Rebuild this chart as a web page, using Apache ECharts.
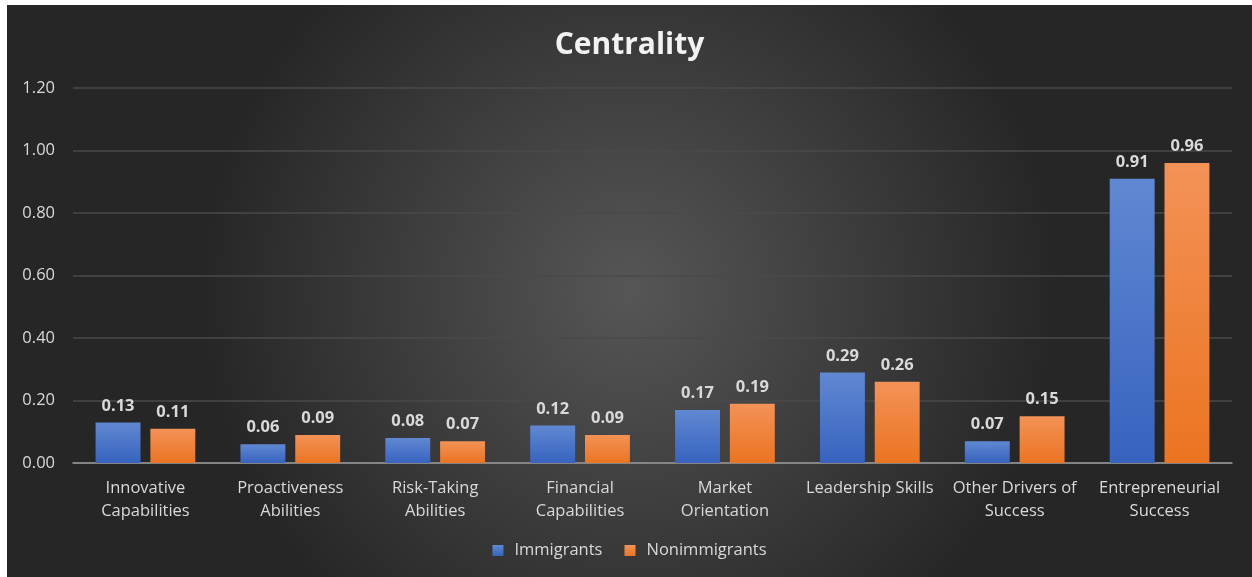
<!DOCTYPE html>
<html>
<head>
<meta charset="utf-8">
<script src="https://cdn.jsdelivr.net/npm/echarts@6/dist/echarts.min.js"></script>
<style>
  html, body { margin: 0; padding: 0; background: #ffffff; }
  #chart { position: absolute; left: 7px; top: 5px; width: 1245px; height: 572px; }
</style>
</head>
<body>
<div id="chart"></div>
<script>
// Centrality scores per driver, for the two founder groups
const categories = [
  'Innovative\nCapabilities',
  'Proactiveness\nAbilities',
  'Risk-Taking\nAbilities',
  'Financial\nCapabilities',
  'Market\nOrientation',
  'Leadership Skills',
  'Other Drivers of\nSuccess',
  'Entrepreneurial\nSuccess'
];
const immigrants = [0.13, 0.06, 0.08, 0.12, 0.17, 0.29, 0.07, 0.91];
const nonimmigrants = [0.11, 0.09, 0.07, 0.09, 0.19, 0.26, 0.15, 0.96];
const seriesNames = ['Immigrants', 'Nonimmigrants'];

const FONT = '"Open Sans", "Noto Sans", sans-serif';
const TEXT = '#d9d9d9';

function barFill(top, bottom) {
  return new echarts.graphic.LinearGradient(0, 0, 0, 1, [
    { offset: 0, color: top },
    { offset: 1, color: bottom }
  ]);
}

const labelStyle = {
  show: true,
  position: 'top',
  distance: 8,
  color: TEXT,
  fontFamily: FONT,
  fontSize: 16.5,
  fontWeight: 'bold',
  formatter: p => p.value.toFixed(2)
};

const chart = echarts.init(document.getElementById('chart'), null, { renderer: 'canvas' });
chart.setOption({
  backgroundColor: new echarts.graphic.RadialGradient(0.5, 0.5, 0.75, [
    { offset: 0, color: '#565656' },
    { offset: 1, color: '#262626' }
  ]),
  animation: false,
  textStyle: { fontFamily: FONT },
  title: {
    text: 'Centrality',
    left: 'center',
    top: 20,
    textStyle: { color: '#f2f2f2', fontSize: 30, fontWeight: 'bold', fontFamily: FONT }
  },
  legend: {
    data: seriesNames,
    bottom: 13,
    left: 'center',
    itemWidth: 11,
    itemHeight: 11,
    itemGap: 22,
    icon: 'rect',
    textStyle: { color: TEXT, fontSize: 16.5, fontFamily: FONT, padding: [0, 0, 0, 6] }
  },
  grid: {
    left: 66,
    right: 20,
    top: 83,
    bottom: 114,
    containLabel: false,
    outerBoundsMode: 'none'
  },
  xAxis: {
    type: 'category',
    data: categories,
    axisTick: { show: false },
    axisLine: { lineStyle: { color: '#9a9a9a', width: 1.5 } },
    axisLabel: {
      color: TEXT,
      fontSize: 16.5,
      fontFamily: FONT,
      lineHeight: 23,
      margin: 14,
      interval: 0
    }
  },
  yAxis: {
    type: 'value',
    min: 0,
    max: 1.2,
    interval: 0.2,
    axisLine: { show: false },
    axisTick: { show: false },
    splitLine: { lineStyle: { color: '#4a4a4a', width: 1.5 } },
    axisLabel: {
      color: TEXT,
      fontSize: 16.5,
      fontFamily: FONT,
      margin: 18,
      formatter: v => v.toFixed(2)
    }
  },
  series: [
    {
      name: seriesNames[0],
      type: 'bar',
      data: immigrants,
      barWidth: '31%',
      barGap: '22%',
      itemStyle: { color: barFill('#6088d2', '#3763bf') },
      label: labelStyle
    },
    {
      name: seriesNames[1],
      type: 'bar',
      data: nonimmigrants,
      barWidth: '31%',
      itemStyle: { color: barFill('#f39257', '#eb7421') },
      label: labelStyle
    }
  ]
});
</script>
</body>
</html>
